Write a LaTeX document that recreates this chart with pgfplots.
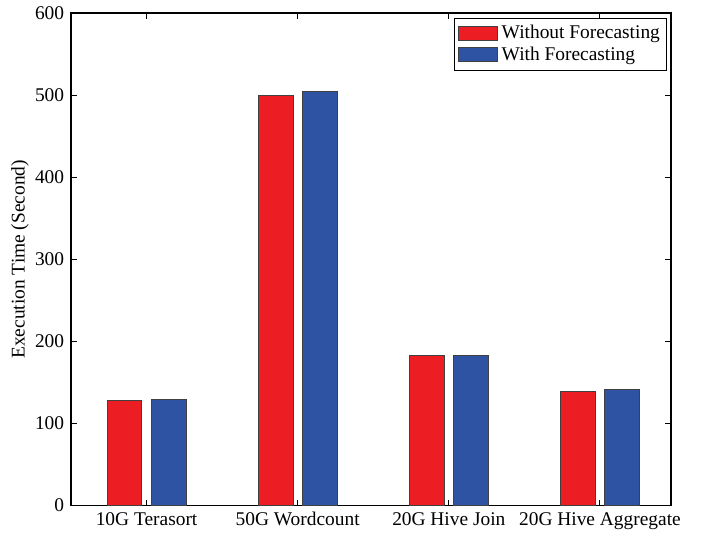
\documentclass[border=0pt]{standalone}
\usepackage{pgfplots}
\pgfplotsset{compat=1.18}
\usepackage{fontspec}
\setmainfont{Liberation Serif}
\definecolor{barred}{RGB}{237,29,36}
\definecolor{barblue}{RGB}{46,83,162}
\begin{document}
\fontsize{9.7}{11.6}\selectfont
\begin{tikzpicture}
\begin{axis}[
  scale only axis,
  width=300pt, height=246.3pt,
  xmin=0.5, xmax=4.47,
  ymin=0, ymax=600,
  xtick={1,2,3,4},
  xticklabels={10G Terasort,50G Wordcount,20G Hive Join,20G Hive Aggregate},
  ytick={0,100,200,300,400,500,600},
  tick align=inside,
  major tick length=3pt,
  tick style={black, line width=0.5pt},
  axis line style={black, line width=0.6pt},
  /pgf/number format/assume math mode=true,
  ticklabel style={font=\fontsize{9.7}{11.6}\selectfont},
  ylabel={Execution Time (Second)},
  ylabel style={font=\fontsize{9.7}{11.6}\selectfont, yshift=-3.5pt},
  bar width=0.23,
  legend style={at={(0.994,0.99)}, anchor=north east, draw=black, line width=0.5pt,
    font=\fontsize{9.7}{11.6}\selectfont, inner sep=1.5pt, row sep=-1.5pt,
    cells={anchor=west}},
  legend image code/.code={\draw[#1] (0pt,-3.5pt) rectangle (19.5pt,3.5pt);},
]
\addplot[ybar, bar shift=-0.146, fill=barred, draw=black!75, line width=0.5pt]
  coordinates {(1,128.5) (2,499) (3,183) (4,139.5)};
\addplot[ybar, bar shift=0.146, fill=barblue, draw=black!75, line width=0.5pt]
  coordinates {(1,129.7) (2,504.2) (3,183) (4,141.5)};
\legend{Without Forecasting, With Forecasting}
\end{axis}
\path ([xshift=-35.5pt,yshift=-14.8pt]current axis.south west) rectangle ([xshift=15.5pt,yshift=6.3pt]current axis.north east);
\end{tikzpicture}
\end{document}
